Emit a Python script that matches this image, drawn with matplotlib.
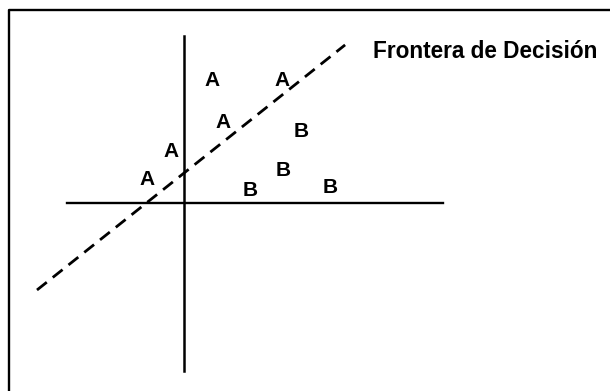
import matplotlib
matplotlib.use('Agg')
import matplotlib.pyplot as plt

# class samples on either side of the boundary (axis units)
a_x = [0.92, 3.26, 1.30, -0.44, -1.24]
a_y = [4.10, 4.10, 2.67, 1.71, 0.79]
b_x = [3.92, 3.31, 2.20, 4.87]
b_y = [2.38, 1.08, 0.43, 0.51]

# decision boundary end points
boundary_x = [-4.90, 5.37]
boundary_y = [-2.90, 5.27]

# extent of the drawn axes
x_axis = [-3.90, 8.63]
y_axis = [-5.60, 5.57]

label = 'Frontera de Decisión'

plt.rcParams['lines.scale_dashes'] = False
fig = plt.figure(figsize=(6.10, 3.91), dpi=100)
ax = fig.add_axes([0, 0, 1, 1])
ax.set_xlim(-6.133, 14.2)
ax.set_ylim(-6.267, 6.767)
ax.axis('off')

# outer frame (right and bottom sides fall outside the canvas)
ax.plot([-5.83, -5.83, 14.4], [-7.0, 6.43, 6.43],
        color='black', linewidth=1.7, clip_on=False)

ax.plot(x_axis, [0, 0], color='black', linewidth=1.7)
ax.plot([0, 0], y_axis, color='black', linewidth=1.8)

ax.plot(boundary_x, boundary_y, color='black', linewidth=2.0,
        dashes=(9, 5.5))

font = dict(family='Liberation Sans', fontweight='bold', fontsize=15,
            ha='center', va='center')
for x, y in zip(a_x, a_y):
    ax.text(x, y, 'A', **font)
for x, y in zip(b_x, b_y):
    ax.text(x, y, 'B', **font)

ax.text(6.3, 5.04, label, family='Liberation Sans', fontweight='bold',
        fontsize=16.3, ha='left', va='center')

fig.savefig('out.png', dpi=100)
